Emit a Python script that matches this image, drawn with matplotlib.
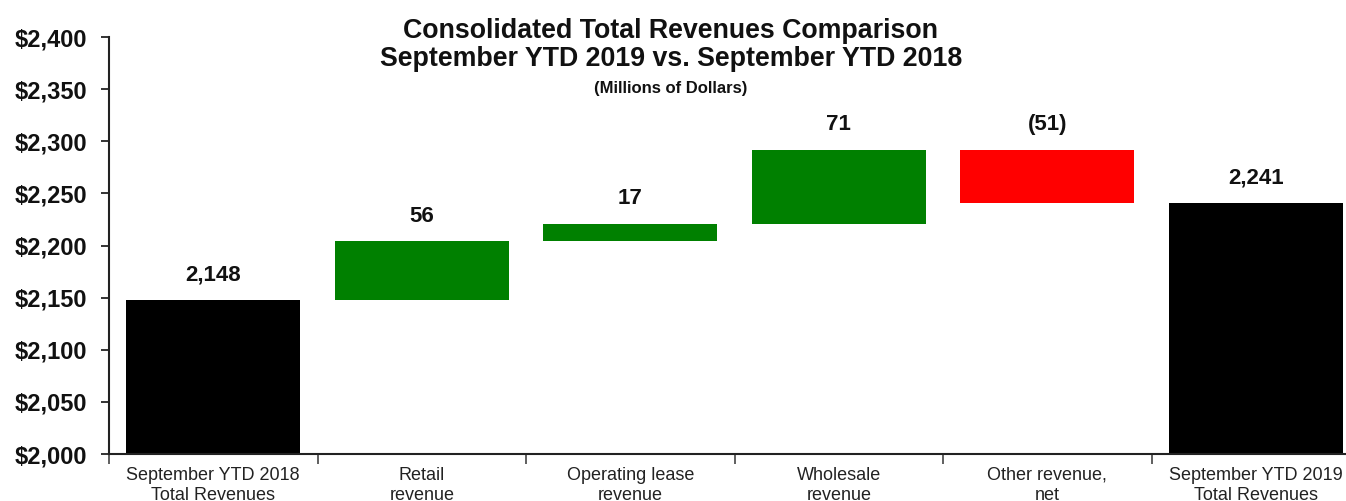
import matplotlib
matplotlib.use("Agg")
import matplotlib.pyplot as plt
from matplotlib.ticker import FixedLocator, FuncFormatter

plt.rcParams['font.family'] = ['Liberation Sans', 'DejaVu Sans']

# Waterfall data (millions of dollars)
categories = [
    "September YTD 2018\nTotal Revenues",
    "Retail\nrevenue",
    "Operating lease\nrevenue",
    "Wholesale\nrevenue",
    "Other revenue,\nnet",
    "September YTD 2019\nTotal Revenues",
]
start_total = 2148
changes = [56, 17, 71, -51]
end_total = 2241
value_labels = ["2,148", "56", "17", "71", "(51)", "2,241"]

title_lines = ["Consolidated Total Revenues Comparison",
               "September YTD 2019 vs. September YTD 2018"]
subtitle = "(Millions of Dollars)"

y_min, y_max, y_step = 2000, 2400, 50

BLACK = "#000000"
GREEN = "#008000"
RED = "#FF0000"

# Build bar bottoms / heights from the running total
bottoms, heights, colors, tops = [], [], [], []
bottoms.append(y_min)
heights.append(start_total - y_min)
colors.append(BLACK)
tops.append(start_total)
running = start_total
for c in changes:
    lo = min(running, running + c)
    bottoms.append(lo)
    heights.append(abs(c))
    colors.append(GREEN if c >= 0 else RED)
    tops.append(max(running, running + c))
    running += c
bottoms.append(y_min)
heights.append(end_total - y_min)
colors.append(BLACK)
tops.append(end_total)

fig = plt.figure(figsize=(13.46, 5.01), dpi=100)
ax = fig.add_axes([0.081, 0.0938, 0.9294, 0.8322])

x = list(range(len(categories)))
ax.bar(x, heights, bottom=bottoms, width=0.835, color=colors,
       edgecolor="none", zorder=2)

for xi, top, lab in zip(x, tops, value_labels):
    ax.annotate(lab, (xi, top), xytext=(0, 18), textcoords="offset points",
                ha="center", va="center", fontsize=16, fontweight="bold",
                color="#111111")

ax.set_xlim(-0.5, len(categories) - 0.5)
ax.set_ylim(y_min, y_max)

# Y axis
ax.yaxis.set_major_locator(FixedLocator(list(range(y_min, y_max + 1, y_step))))
ax.yaxis.set_major_formatter(FuncFormatter(lambda v, p: f"${v:,.0f}"))
ax.tick_params(axis="y", direction="out", length=6, width=1.2, pad=10,
               labelsize=17, colors="#111111")
for t in ax.get_yticklabels():
    t.set_fontweight("bold")

# X axis: labels at centres, tick marks at the category boundaries
ax.set_xticks(x)
ax.set_xticklabels(categories, fontsize=13, color="#222222", linespacing=1.3)
ax.tick_params(axis="x", which="major", length=0, pad=9)
ax.set_xticks([i - 0.5 for i in range(len(categories) + 1)], minor=True)
ax.tick_params(axis="x", which="minor", direction="out", length=7, width=1.2,
               colors="#444444")

for side in ("top", "right"):
    ax.spines[side].set_visible(False)
for side in ("left", "bottom"):
    ax.spines[side].set_linewidth(1.5)
    ax.spines[side].set_color("#222222")

fig.text(0.4985, 1 - 31 / 501, title_lines[0], ha="center", va="center",
         fontsize=19.3, fontweight="bold", color="#111111")
fig.text(0.4985, 1 - 59 / 501, title_lines[1], ha="center", va="center",
         fontsize=19.3, fontweight="bold", color="#111111")
fig.text(0.4985, 1 - 88 / 501, subtitle, ha="center", va="center",
         fontsize=12, fontweight="bold", color="#111111")

fig.savefig("out.png", dpi=100)
